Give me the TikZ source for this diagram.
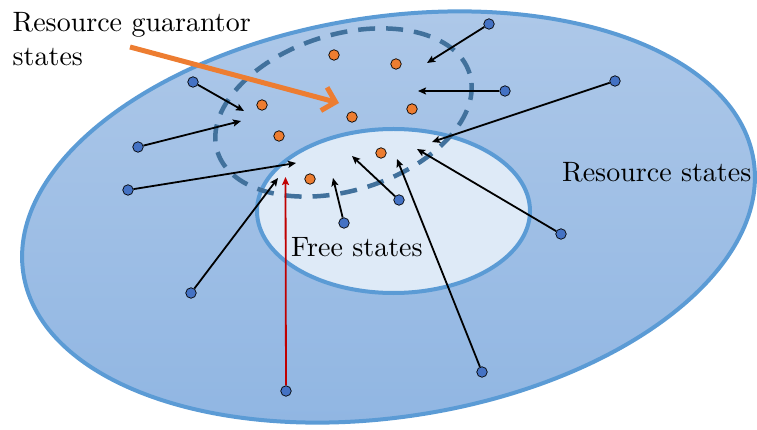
\documentclass[tikz,border=0pt]{standalone}
\usepackage{graphicx}
\usetikzlibrary{arrows.meta}
\definecolor{outtop}{HTML}{AFC9E9}
\definecolor{outbot}{HTML}{8FB5E2}
\definecolor{rimblue}{HTML}{5B9BD5}
\definecolor{innerfill}{HTML}{DEEAF7}
\definecolor{dashblue}{HTML}{41719C}
\definecolor{dotblue}{HTML}{4472C4}
\definecolor{dotorange}{HTML}{ED7D31}
\definecolor{arrred}{HTML}{C00000}
\newcommand{\bigtxt}[1]{\scalebox{2.8}{\fontsize{10}{11.8}\selectfont #1}}
\begin{document}
\begin{tikzpicture}[x=1pt,y=-1pt,
  bdot/.style={circle,draw=black,line width=0.7pt,fill=dotblue,minimum size=10.5pt,inner sep=0pt},
  odot/.style={circle,draw=black,line width=0.7pt,fill=dotorange,minimum size=10.5pt,inner sep=0pt},
  arr/.style={line width=1.8pt,-{Stealth[length=8pt,width=7pt,inset=1.5pt]}},
  redarr/.style={arr,arrred},
  garr/.style={dotorange,line width=5pt,-{Straight Barb[length=12pt,width=24pt]}},
  lbl/.style={inner sep=0pt,anchor=base west}]
\useasboundingbox (0,0) rectangle (757,430);
% regions
\draw[top color=outtop,bottom color=outbot,draw=rimblue,line width=4pt,
      rotate around={8.8:(388.5,217)}] (388.5,217) ellipse [x radius=369.5pt,y radius=200pt];
\draw[fill=innerfill,draw=rimblue,line width=4pt] (393.5,211) ellipse [x radius=136.5pt,y radius=82pt];
\draw[dashblue,line width=4.5pt,dash pattern=on 17pt off 11pt,
      rotate around={17.2:(343.5,112.5)}] (343.5,112.5) ellipse [x radius=132pt,y radius=78pt];
% labels
\node[lbl] (tg) at (12.5,32) {\bigtxt{\begin{tabular}[t]{@{}l@{}}Resource guarantor\\states\end{tabular}}};
\node[lbl] (tr) at (562,182) {\bigtxt{Resource states}};
\node[lbl] (tf) at (291,257) {\bigtxt{Free states}};
% orange dots
\node[odot] (o1) at (334,55) {};
\node[odot] (o2) at (396,64) {};
\node[odot] (o3) at (262,105) {};
\node[odot] (o4) at (352,117) {};
\node[odot] (o5) at (412,109) {};
\node[odot] (o6) at (279,136) {};
\node[odot] (o7) at (381,153) {};
\node[odot] (o8) at (310,179) {};
% blue dots
\node[bdot] (b1) at (489,24) {};
\node[bdot] (b2) at (505,91) {};
\node[bdot] (b3) at (615,81) {};
\node[bdot] (b4) at (193,82) {};
\node[bdot] (b5) at (138,147) {};
\node[bdot] (b6) at (128,190) {};
\node[bdot] (b7) at (191,293) {};
\node[bdot] (b8) at (286,391) {};
\node[bdot] (b9) at (344,223) {};
\node[bdot] (b10) at (399,200) {};
\node[bdot] (b11) at (482,372) {};
\node[bdot] (b12) at (561,234) {};
% arrow tips
\coordinate (t1) at (427,63);
\coordinate (t2) at (418,91);
\coordinate (t3) at (432,142);
\coordinate (t4) at (244,111);
\coordinate (t5) at (241,121);
\coordinate (t6) at (296,163);
\coordinate (t7) at (278,178);
\coordinate (t8) at (285.5,177);
\coordinate (t9) at (333,178);
\coordinate (t10) at (352,156);
\coordinate (t11) at (397,159);
\coordinate (t12) at (417,149);
\draw[arr] (b1) -- (t1);
\draw[arr] (b2) -- (t2);
\draw[arr] (b3) -- (t3);
\draw[arr] (b4) -- (t4);
\draw[arr] (b5) -- (t5);
\draw[arr] (b6) -- (t6);
\draw[arr] (b7) -- (t7);
\draw[redarr] (b8) -- (t8);
\draw[arr] (b9) -- (t9);
\draw[arr] (b10) -- (t10);
\draw[arr] (b11) -- (t11);
\draw[arr] (b12) -- (t12);
% guarantor pointer
\coordinate (ga) at (130,47);
\coordinate (gb) at (339,103);
\draw[garr] (ga) -- (gb);
\end{tikzpicture}
\end{document}
